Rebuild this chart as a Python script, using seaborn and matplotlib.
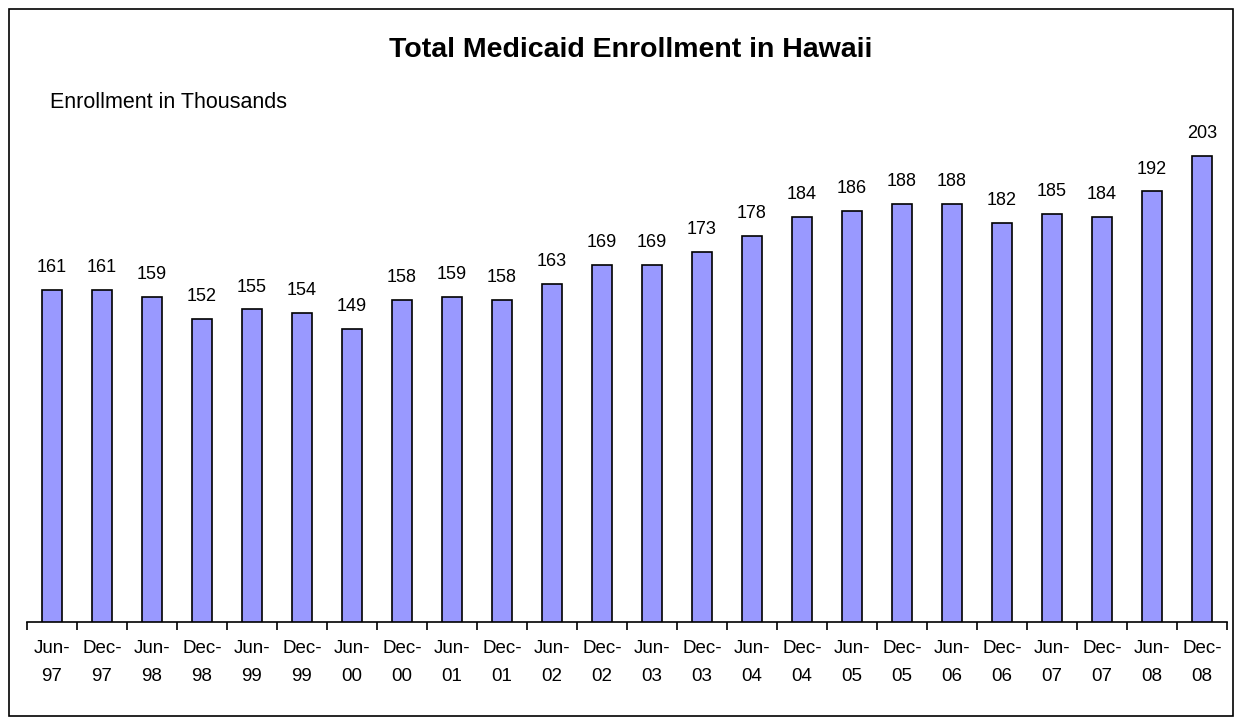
import matplotlib
matplotlib.use("Agg")
import matplotlib.pyplot as plt
import seaborn as sns
import pandas as pd
import numpy as np
from matplotlib.patches import Rectangle

sns.set_theme(style="white")
plt.rcParams['font.family'] = ['Liberation Sans', 'DejaVu Sans']
plt.rcParams['text.color'] = 'black'
plt.rcParams['xtick.color'] = 'black'
plt.rcParams['xtick.labelcolor'] = 'black'

categories = ["Jun-\n97", "Dec-\n97", "Jun-\n98", "Dec-\n98", "Jun-\n99", "Dec-\n99",
              "Jun-\n00", "Dec-\n00", "Jun-\n01", "Dec-\n01", "Jun-\n02", "Dec-\n02",
              "Jun-\n03", "Dec-\n03", "Jun-\n04", "Dec-\n04", "Jun-\n05", "Dec-\n05",
              "Jun-\n06", "Dec-\n06", "Jun-\n07", "Dec-\n07", "Jun-\n08", "Dec-\n08"]
values = [161, 161, 159, 152, 155, 154, 149, 158, 159, 158, 163, 169,
          169, 173, 178, 184, 186, 188, 188, 182, 185, 184, 192, 203]

df = pd.DataFrame({"period": categories, "enrollment": values})

fig = plt.figure(figsize=(12.38, 7.23), dpi=100)
W, H = 1238, 723
ax = fig.add_axes([27 / W, (H - 622) / H, (1227 - 27) / W, (622 - 135) / H])

sns.barplot(data=df, x="period", y="enrollment", ax=ax, color="#9999FF",
            saturation=1, width=0.4, edgecolor="black", linewidth=1.2)

ax.set_ylim(57, 209.7)
ax.set_xlim(-0.5, len(categories) - 0.5)
ax.set_xlabel("")
ax.set_ylabel("")
ax.set_yticks([])
for s in ["top", "right", "left"]:
    ax.spines[s].set_visible(False)
ax.spines["bottom"].set_color("black")
ax.spines["bottom"].set_linewidth(1.2)

for i, v in enumerate(values):
    ax.annotate(f"{v}", (i, v), xytext=(0, 10), textcoords="offset points",
                ha="center", va="bottom", fontsize=13, color="black")

# category labels without ticks, ticks between categories
ax.set_xticks(np.arange(len(categories)))
ax.set_xticklabels(categories, fontsize=13.5, linespacing=1.85)
ax.tick_params(axis="x", which="major", length=0, pad=13)
ax.set_xticks(np.arange(len(categories) + 1) - 0.5, minor=True)
ax.tick_params(axis="x", which="minor", length=6, width=1.2, color="black", direction="out")
ax.xaxis.set_tick_params(which="minor", bottom=True)

fig.text(631 / W, 1 - 50 / H, "Total Medicaid Enrollment in Hawaii", ha="center",
         va="center", fontsize=20.5, fontweight="bold")
fig.text(50 / W, 1 - 103 / H, "Enrollment in Thousands", ha="left", va="center",
         fontsize=15.5)

fig.patches.append(Rectangle((9 / W, 7 / H), (1233 - 9) / W, (715 - 8) / H,
                             transform=fig.transFigure, fill=False,
                             edgecolor="black", linewidth=1.2))

fig.savefig("out.png", dpi=100)
